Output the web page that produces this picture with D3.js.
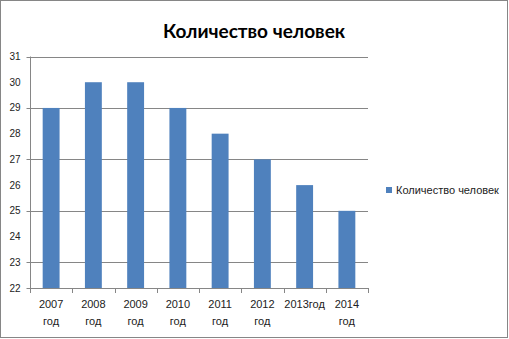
<!DOCTYPE html>
<html lang="ru">
<head>
<meta charset="UTF-8">
<title>Количество человек</title>
<script src="https://cdn.jsdelivr.net/npm/d3@7"></script>
<style>
    body { margin: 0; background: #fff; }
    svg { display: block; }
</style>
</head>
<body>
<svg width="509" height="339"></svg>
<script>
    // data
    const years = ["2007", "2008", "2009", "2010", "2011", "2012", "2013", "2014"];
    const people = [29, 30, 30, 29, 28, 27, 26, 25];
    const yTicks = [22, 23, 24, 25, 26, 27, 28, 29, 30, 31];
    const gridTicks = [23, 25, 27, 29, 31];
    const seriesName = "Количество человек";

    const svg = d3.select("svg");
    const plotLeft = 30, plotRight = 368, plotTop = 56.5, plotBottom = 288;

    // outer frame
    svg.append("rect")
        .attr("x", 0.5).attr("y", 0.5)
        .attr("width", 507).attr("height", 337)
        .attr("fill", "#fff").attr("stroke", "#868686");

    svg.append("text")
        .attr("x", 254).attr("y", 38)
        .attr("text-anchor", "middle")
        .attr("font-family", "Lato, sans-serif")
        .attr("font-weight", "bold")
        .attr("font-size", 19)
        .text("Количество человек");

    const x = d3.scaleBand().domain(years).range([plotLeft, plotRight]).paddingInner(0.6).paddingOuter(0.3);
    const xb = d3.scaleBand().domain(years).range([plotLeft, plotRight]);
    const y = d3.scaleLinear().domain([22, 31]).range([plotBottom, plotTop]);

    // gridlines
    svg.append("g").selectAll("line").data(gridTicks).join("line")
        .attr("x1", plotLeft).attr("x2", plotRight)
        .attr("y1", d => Math.round(y(d)) + 0.5).attr("y2", d => Math.round(y(d)) + 0.5)
        .attr("stroke", "#868686");

    // bars
    svg.append("g").selectAll("rect").data(people).join("rect")
        .attr("x", (d, i) => x(years[i]))
        .attr("width", x.bandwidth())
        .attr("y", d => y(d))
        .attr("height", d => plotBottom - y(d))
        .attr("fill", "#4F81BD");

    // y axis
    const yAxis = svg.append("g").attr("transform", `translate(${plotLeft + 0.5},0)`);
    yAxis.append("line").attr("y1", plotTop).attr("y2", plotBottom).attr("stroke", "#868686");
    yAxis.selectAll("line.t").data(gridTicks.concat([22])).join("line").attr("class", "t")
        .attr("x1", -4).attr("x2", 0)
        .attr("y1", d => Math.round(y(d)) + 0.5).attr("y2", d => Math.round(y(d)) + 0.5)
        .attr("stroke", "#868686");
    yAxis.selectAll("text").data(yTicks).join("text")
        .attr("x", -10).attr("y", d => y(d) + 3.5)
        .attr("text-anchor", "end")
        .attr("font-family", "'Liberation Sans Narrow', 'Liberation Sans', sans-serif")
        .attr("font-size", 10)
        .attr("fill", "#222")
        .text(d => d);

    // x axis
    const xAxis = svg.append("g");
    xAxis.append("line")
        .attr("x1", plotLeft).attr("x2", plotRight)
        .attr("y1", plotBottom + 0.5).attr("y2", plotBottom + 0.5)
        .attr("stroke", "#868686");
    xAxis.selectAll("line.t").data(years.concat(["end"])).join("line").attr("class", "t")
        .attr("x1", (d, i) => Math.round(plotLeft + i * xb.bandwidth()) + 0.5)
        .attr("x2", (d, i) => Math.round(plotLeft + i * xb.bandwidth()) + 0.5)
        .attr("y1", plotBottom).attr("y2", plotBottom + 5)
        .attr("stroke", "#868686");
    const lbl = xAxis.selectAll("text").data(years).join("text")
        .attr("x", d => xb(d) + xb.bandwidth() / 2)
        .attr("y", 308)
        .attr("text-anchor", "middle")
        .attr("font-family", "'Liberation Sans Narrow', 'Liberation Sans', sans-serif")
        .attr("font-size", 11)
        .attr("fill", "#222");
    lbl.each(function (d) {
        const t = d3.select(this);
        if (d === "2013") {
            t.append("tspan").text(d + "год");
        } else {
            t.append("tspan").attr("x", xb(d) + xb.bandwidth() / 2).text(d);
            t.append("tspan").attr("x", xb(d) + xb.bandwidth() / 2).attr("dy", 17).text("год");
        }
    });

    // legend
    const lg = svg.append("g").attr("transform", "translate(386,187)");
    lg.append("rect").attr("width", 6).attr("height", 6).attr("fill", "#4F81BD");
    lg.append("text")
        .attr("x", 10).attr("y", 7)
        .attr("font-family", "'Liberation Sans Narrow', 'Liberation Sans', sans-serif")
        .attr("font-size", 11)
        .attr("fill", "#222")
        .text(seriesName);
</script>
</body>
</html>
